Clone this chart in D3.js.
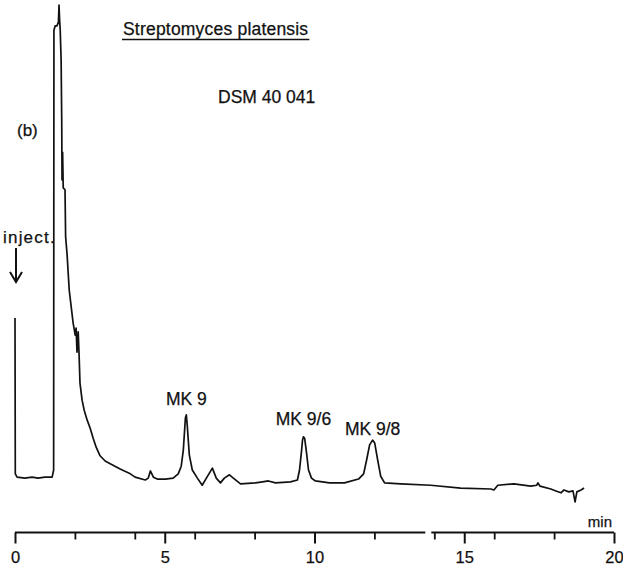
<!DOCTYPE html>
<html><head><meta charset="utf-8">
<script src="https://cdn.jsdelivr.net/npm/d3@7"></script>
<style>body{margin:0;background:#fff}svg{display:block}text{font-family:"Liberation Sans",Arial,sans-serif;fill:#111;stroke:#111;stroke-width:0.25}</style>
</head><body>
<script>
// retention time (min)
const times = [0.00,0.01,0.07,0.33,0.57,0.77,1.00,1.24,1.29,1.30,1.34,1.40,1.45,1.47,1.49,1.51,1.54,1.56,1.57,1.59,1.61,1.67,1.69,1.74,1.81,1.87,1.94,2.01,2.04,2.07,2.11,2.14,2.17,2.24,2.31,2.41,2.51,2.61,2.71,2.84,3.01,3.18,3.51,3.85,4.01,4.35,4.45,4.52,4.62,4.75,5.02,5.28,5.45,5.55,5.62,5.69,5.72,5.75,5.82,5.92,6.09,6.25,6.39,6.59,6.72,6.86,6.99,7.16,7.29,7.53,8.03,8.26,8.46,8.70,9.20,9.43,9.50,9.57,9.60,9.63,9.67,9.73,9.80,9.90,10.03,10.50,11.00,11.47,11.64,11.74,11.84,11.94,12.01,12.11,12.21,12.34,12.88,13.88,14.88,15.89,15.99,16.12,16.66,17.22,17.42,17.46,17.53,17.89,18.06,18.23,18.33,18.49,18.63,18.70,18.76,18.90,19.00];
// detector signal (relative units)
const signal = [34.1,1.3,0.6,0.4,0.6,0.4,0.6,0.6,2.1,94.7,95.6,95.6,96.4,100,96.8,94.7,88.4,75.8,63.2,69.0,61.5,61.1,51.2,47.4,40.0,36.8,33.1,30.5,32.0,26.9,31.2,26.3,20.4,16.8,14.7,12.6,10.9,8.8,6.9,5.1,4.0,3.4,2.3,1.3,0.6,0.0,0.4,1.9,0.6,0.2,0.2,0.4,1.3,2.9,6.3,13.1,13.7,11.6,5.3,2.1,0.4,-1.1,0.4,2.5,0.4,-0.6,0.4,1.1,0.4,-0.8,-0.6,-0.4,-0.2,-0.6,-0.4,0.0,2.1,6.3,8.4,9.1,8.8,5.9,2.1,0.4,-0.2,-0.6,-0.6,0.2,1.3,4.2,7.4,8.4,7.8,4.2,0.8,-0.6,-0.8,-1.1,-1.7,-1.9,-2.1,-1.1,-0.8,-1.3,-1.1,-0.6,-1.3,-1.9,-2.3,-2.7,-2.1,-2.5,-2.3,-4.6,-2.5,-2.1,-1.7];
// axis
const majorTicks = [0,5,10,15,20];
const minorTicks = [2,4,6,8,12,14,16,18];
const axisBreak = [13.7,13.9];
// labels
const peakLabels = [
  {text:"MK 9", t:5.72},
  {text:"MK 9/6", t:9.63},
  {text:"MK 9/8", t:11.94}
];
const title = "Streptomyces platensis";
const strain = "DSM 40 041";
const panel = "(b)";
const injectLabel = "inject.";
const unitLabel = "min";

const W = 623, H = 572;
const svg = d3.select("body").append("svg").attr("width", W).attr("height", H);
const x = d3.scaleLinear().domain([0,20]).range([15,614]);
const y = d3.scaleLinear().domain([0,100]).range([480,5]);

const data = times.map((t,i)=>({t, v:signal[i]}));
svg.append("path").datum(data)
  .attr("fill","none").attr("stroke","#111").attr("stroke-width",1.7)
  .attr("stroke-linejoin","round")
  .attr("d", d3.line().x(d=>x(d.t)).y(d=>y(d.v)));

// axis
const axisY = 532.5;
const g = svg.append("g");
g.append("line").attr("x1",x(0)).attr("x2",x(axisBreak[0])).attr("y1",axisY).attr("y2",axisY).attr("stroke","#111").attr("stroke-width",2.2);
g.append("line").attr("x1",x(axisBreak[1])).attr("x2",x(20)).attr("y1",axisY).attr("y2",axisY).attr("stroke","#111").attr("stroke-width",2.2);
const ax = svg.append("g").attr("transform",`translate(0,${axisY})`)
  .call(d3.axisBottom(x).tickValues(majorTicks).tickSize(11).tickPadding(8).tickFormat(d3.format("d")));
ax.select(".domain").remove();
ax.selectAll(".tick line").attr("stroke","#111").attr("stroke-width",2);
ax.selectAll(".tick text").attr("font-size",16.5).attr("fill","#111").attr("font-family","Liberation Sans, Arial, sans-serif");
const ax2 = svg.append("g").attr("transform",`translate(0,${axisY})`)
  .call(d3.axisBottom(x).tickValues(minorTicks).tickSize(7).tickFormat(""));
ax2.select(".domain").remove();
ax2.selectAll(".tick line").attr("stroke","#111").attr("stroke-width",1.8);

svg.append("text").attr("x",x(20)-2).attr("y",527).attr("text-anchor","end").attr("font-size",15).text(unitLabel);

// titles
const tt = svg.append("text").attr("x",123).attr("y",35).attr("font-size",17.5).attr("letter-spacing",0.2).text(title);
const tw = tt.node().getComputedTextLength();
svg.append("line").attr("x1",122).attr("x2",123+tw+1).attr("y1",39.5).attr("y2",39.5).attr("stroke","#111").attr("stroke-width",1.5);
svg.append("text").attr("x",218).attr("y",103).attr("font-size",17.5).text(strain);
svg.append("text").attr("x",17).attr("y",136).attr("font-size",17).text(panel);
svg.append("text").attr("x",3).attr("y",243).attr("font-size",17).attr("letter-spacing",1.2).text(injectLabel);

// inject arrow
const ax0 = x(0)+1;
svg.append("line").attr("x1",ax0).attr("x2",ax0).attr("y1",248).attr("y2",281).attr("stroke","#111").attr("stroke-width",2);
svg.append("path").attr("d",`M${ax0-6},${272} L${ax0},${282} L${ax0+6},${272}`).attr("fill","none").attr("stroke","#111").attr("stroke-width",2);

// peak labels
const labelY = {"MK 9":405,"MK 9/6":425,"MK 9/8":435};
svg.selectAll("text.pk").data(peakLabels).join("text").attr("class","pk")
  .attr("x",d=>x(d.t)).attr("y",d=>labelY[d.text])
  .attr("text-anchor","middle").attr("font-size",17.5).text(d=>d.text);
</script>
</body></html>
